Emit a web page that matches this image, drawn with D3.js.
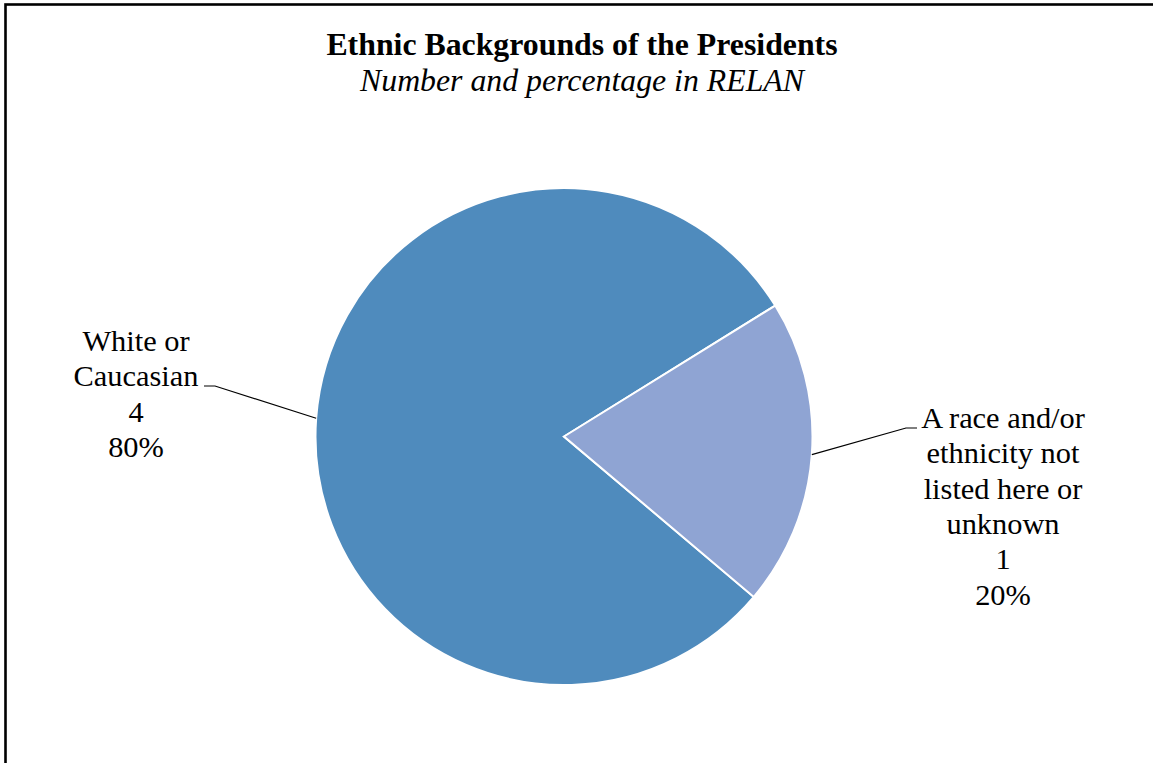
<!DOCTYPE html>
<html>
<head>
<meta charset="utf-8">
<script src="https://cdn.jsdelivr.net/npm/d3@7"></script>
<style>
  html, body { margin: 0; padding: 0; background: #fff; }
  svg { display: block; }
</style>
</head>
<body>
<svg id="chart" width="1153" height="763"></svg>
<script>
// ---- Data ----
const categories = ["White or Caucasian", "A race and/or ethnicity not listed here or unknown"];
const values = [4, 1];
const labelLines = [
  ["White or", "Caucasian", "4", "80%"],
  ["A race and/or", "ethnicity not", "listed here or", "unknown", "1", "20%"]
];
const colors = ["#4F8BBD", "#8FA4D3"];
const title = "Ethnic Backgrounds of the Presidents";
const subtitle = "Number and percentage in RELAN";

// ---- Layout ----
const svg = d3.select("#chart");
const W = 1153, H = 763;
const cx = 564, cy = 436.5, R = 248.5;
const serif = "'Liberation Serif', 'Times New Roman', serif";

svg.append("rect")
  .attr("x", 5.5).attr("y", 4.5)
  .attr("width", W + 20).attr("height", H + 20)
  .attr("fill", "#fff").attr("stroke", "#000").attr("stroke-width", 2.6);

svg.append("text")
  .attr("x", 582).attr("y", 55)
  .attr("text-anchor", "middle")
  .attr("font-family", serif)
  .attr("font-weight", "bold").attr("font-size", 31.8)
  .text(title);

svg.append("text")
  .attr("x", 582).attr("y", 91)
  .attr("text-anchor", "middle")
  .attr("font-family", serif)
  .attr("font-style", "italic").attr("font-size", 31.8)
  .text(subtitle);

const startDeg = 130.2;
const pie = d3.pie().sort(null).value(d => d)
  .startAngle(startDeg * Math.PI / 180)
  .endAngle((startDeg + 360) * Math.PI / 180);
const arcs = pie(values);
const arc = d3.arc().innerRadius(0).outerRadius(R);

const g = svg.append("g").attr("transform", `translate(${cx},${cy})`);
g.selectAll("path").data(arcs).join("path")
  .attr("d", arc)
  .attr("fill", (d, i) => colors[i])
  .attr("stroke", "#fff").attr("stroke-width", 2);

// ---- Labels with leader lines ----
const labelPos = [
  { x: 136, y: 351, elbow: [215, 386], end: [204, 386] },
  { x: 1003, y: 428, elbow: [906, 428], end: [917, 428] }
];
const lineH = 35.3;

arcs.forEach((a, i) => {
  const p = labelPos[i];
  const ang = (a.startAngle + a.endAngle) / 2;
  const ax = cx + R * Math.sin(ang);
  const ay = cy - R * Math.cos(ang);
  svg.append("polyline")
    .attr("points", [[ax, ay], p.elbow, p.end].map(q => q.join(",")).join(" "))
    .attr("fill", "none").attr("stroke", "#000").attr("stroke-width", 1.2);

  const t = svg.append("text")
    .attr("text-anchor", "middle")
    .attr("font-family", serif)
    .attr("font-size", 30.4)
    .attr("fill", "#000");
  labelLines[i].forEach((ln, k) => {
    t.append("tspan").attr("x", p.x).attr("y", p.y + k * lineH).text(ln);
  });
});
</script>
</body>
</html>
